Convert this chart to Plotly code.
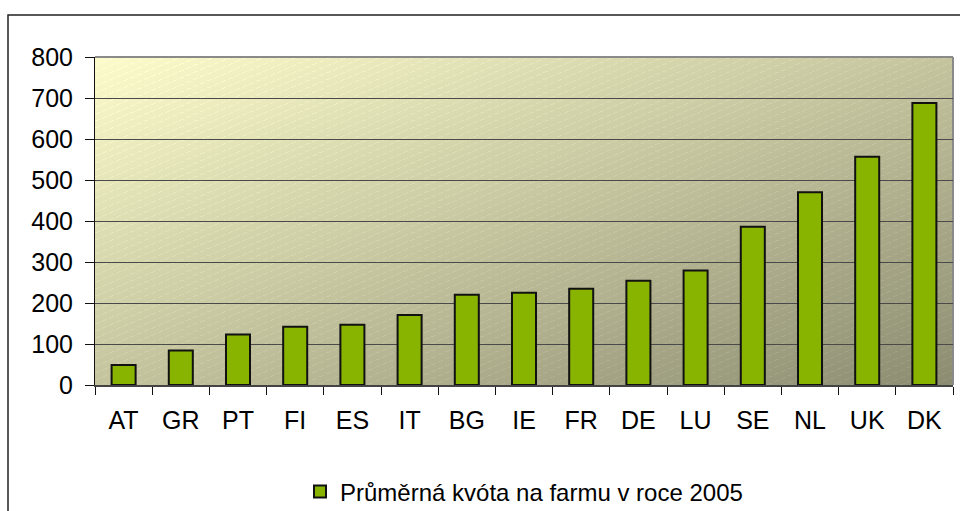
import base64
import struct
import zlib

import numpy as np
import plotly.graph_objects as go

# Average milk quota per farm in 2005 (tonnes), by member state
countries = ["AT", "GR", "PT", "FI", "ES", "IT", "BG", "IE", "FR", "DE",
             "LU", "SE", "NL", "UK", "DK"]
quota = [49, 84, 123, 142, 147, 171, 220, 225, 235, 254, 279, 386, 470, 557, 688]
series_name = "Průměrná kvóta na farmu v roce 2005"
y_ticks = [0, 100, 200, 300, 400, 500, 600, 700, 800]

W, H = 960, 511
M_L, M_R, M_T, M_B = 95, 7, 57, 126
PW, PH = W - M_L - M_R, H - M_T - M_B


def png_data_uri(rgb):
    """Encode an (h, w, 3) uint8 array as a PNG data URI."""
    h, w, _ = rgb.shape
    raw = b"".join(b"\x00" + rgb[r].tobytes() for r in range(h))

    def chunk(tag, data):
        c = struct.pack(">I", len(data)) + tag + data
        return c + struct.pack(">I", zlib.crc32(tag + data) & 0xFFFFFFFF)

    png = b"\x89PNG\r\n\x1a\n"
    png += chunk(b"IHDR", struct.pack(">IIBBBBB", w, h, 8, 2, 0, 0, 0))
    png += chunk(b"IDAT", zlib.compress(raw, 9))
    png += chunk(b"IEND", b"")
    return "data:image/png;base64," + base64.b64encode(png).decode()


# Diagonal pale-yellow to olive-grey fill with faint dashed hatching
yy, xx = np.mgrid[0:PH, 0:PW].astype(float)
t = (xx / PW + yy / PH) / 2.0
c0 = np.array([252, 252, 204], float)
c1 = np.array([140, 140, 114], float)
bg = c0[None, None, :] * (1 - t[..., None]) + c1[None, None, :] * t[..., None]
hatch = (np.mod(yy + 0.42 * xx, 7.0) < 1.0) & (np.mod(xx, 7.0) < 4.5)
bg[hatch] += 10
bg_uri = png_data_uri(np.clip(bg, 0, 255).astype(np.uint8))

fig = go.Figure()
fig.add_trace(go.Bar(
    x=countries,
    y=quota,
    name=series_name,
    width=0.42,
    marker=dict(color="#88b400", line=dict(color="#111111", width=2)),
    showlegend=True,
))

axis_font = dict(family="Liberation Sans, Arial, sans-serif", size=25, color="#000000")

fig.update_layout(
    width=W,
    height=H,
    margin=dict(l=M_L, r=M_R, t=M_T, b=M_B, autoexpand=False),
    paper_bgcolor="#ffffff",
    plot_bgcolor="rgba(0,0,0,0)",
    showlegend=True,
    legend=dict(
        orientation="h",
        x=0.5, xanchor="center",
        y=-0.326, yanchor="middle",
        font=dict(family="Liberation Sans, Arial, sans-serif", size=24, color="#000000"),
        bgcolor="rgba(0,0,0,0)",
        itemwidth=30,
    ),
    images=[dict(
        source=bg_uri, xref="paper", yref="paper",
        x=0, y=1, sizex=1, sizey=1,
        xanchor="left", yanchor="top",
        sizing="stretch", layer="below",
    )],
    shapes=[
        # plot-area frame (top and right edges)
        dict(type="line", xref="paper", yref="paper", x0=0, x1=1, y0=1, y1=1,
             line=dict(color="#8a8a8a", width=2), layer="below"),
        dict(type="line", xref="paper", yref="paper", x0=1, x1=1, y0=0, y1=1,
             line=dict(color="#8a8a8a", width=2), layer="below"),
        # outer chart border
        dict(type="rect", xref="paper", yref="paper",
             x0=(8 - M_L) / PW, x1=(W + 20 - M_L) / PW,
             y0=-(H + 20 - M_T - PH) / PH, y1=(PH + M_T - 15) / PH,
             line=dict(color="#222222", width=1.5), fillcolor="rgba(0,0,0,0)"),
    ],
)

fig.update_xaxes(
    type="category",
    automargin=False,
    tickfont=axis_font,
    showgrid=False,
    showline=True, linecolor="#444444", linewidth=2,
    ticks="outside", tickson="boundaries", ticklen=8, tickcolor="#111111", tickwidth=1,
    ticklabelstandoff=12,
)
fig.update_yaxes(
    range=[0, 800],
    automargin=False,
    tickvals=y_ticks,
    tickfont=axis_font,
    showgrid=True, gridcolor="#4a4a4a", gridwidth=1,
    zeroline=False,
    showline=True, linecolor="#111111", linewidth=1,
    ticks="outside", ticklen=9, tickcolor="#111111", tickwidth=1,
    ticklabelstandoff=7,
)

fig.write_html("out.html")
